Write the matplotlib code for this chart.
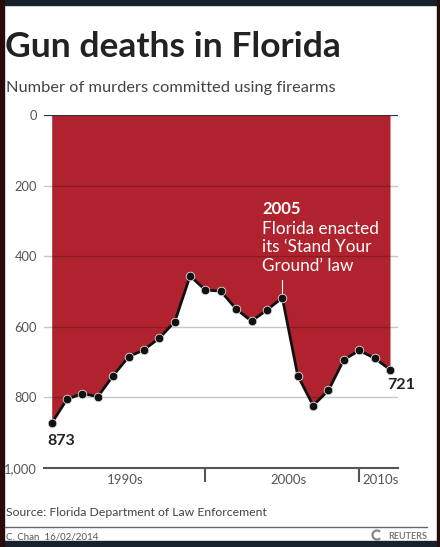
import matplotlib.pyplot as plt
from matplotlib.patches import Rectangle, Arc
from matplotlib.lines import Line2D

years = [1990, 1991, 1992, 1993, 1994, 1995, 1996, 1997, 1998, 1999, 2000, 2001,
         2002, 2003, 2004, 2005, 2006, 2007, 2008, 2009, 2010, 2011, 2012]
murders = [873, 805, 789, 798, 738, 685, 665, 632, 586, 456, 496, 499,
           550, 584, 552, 518, 738, 823, 780, 693, 667, 689, 721]
yticks = [0, 200, 400, 600, 800, 1000]
ytick_labels = ["0", "200", "400", "600", "800", "1,000"]
decades = ["1990s", "2000s", "2010s"]

W, H = 440, 547
RED = "#b0232e"
plt.rcParams['font.family'] = ['Lato', 'DejaVu Sans']

fig = plt.figure(figsize=(W / 100, H / 100), dpi=100)
fig.patch.set_facecolor("white")

def fx(px):
    return px / W

def fy(py):
    return 1 - py / H

# dark frame around the card
fig.add_artist(Rectangle((0, fy(5)), 1, 5 / H, transform=fig.transFigure, color="#17212b", zorder=0))
fig.add_artist(Rectangle((0, 0), 1, 6 / H, transform=fig.transFigure, color="#17212b", zorder=0))
fig.add_artist(Rectangle((0, 0), 4 / W, 1, transform=fig.transFigure, color="#2a0b0c", zorder=0))
fig.add_artist(Rectangle((fx(437), 0), 3 / W, 1, transform=fig.transFigure, color="#2a0b0c", zorder=0))

ax = fig.add_axes([fx(44), fy(468), fx(398) - fx(44), fy(115) - fy(468)])
ax.set_xlim(1989.5, 2012.52)
ax.set_ylim(1000, 0)

ax.fill_between(years, 0, murders, color=RED, lw=0, zorder=1)
for v in yticks[1:-1]:
    ax.axhline(v, color=(0, 0, 0, 0.22), lw=1, zorder=2)
ax.axhline(0, color="#333333", lw=1.6, zorder=3)
ax.plot(years, murders, color="#111111", lw=2, zorder=4)
ax.plot(years, murders, "o", color="#111111", ms=6.2, mec="#dddddd", mew=0.6, zorder=5)

for s in ["top", "right", "left"]:
    ax.spines[s].set_visible(False)
ax.spines["bottom"].set_color("#555555")
ax.spines["bottom"].set_linewidth(1.5)
ax.set_facecolor("none")

ax.set_yticks(yticks)
ax.set_yticklabels(ytick_labels, color="#555555", fontsize=9.3)
ax.tick_params(axis="y", length=0, pad=5)
ax.set_xticks([2000, 2010])
ax.set_xticklabels([])
ax.tick_params(axis="x", length=10, width=1.5, color="#555555", direction="out")

trans = ax.get_xaxis_transform()
ax.text(1994.8, -0.017, decades[0], transform=trans, ha="center", va="top", fontsize=9.5, color="#555555")
ax.text(2005.4, -0.017, decades[1], transform=trans, ha="center", va="top", fontsize=9.5, color="#555555")
ax.text(2010.2, -0.017, decades[2], transform=trans, ha="left", va="top", fontsize=9.5, color="#555555")

ax.text(years[0] + 0.6, murders[0] + 30, str(murders[0]), ha="center", va="top",
        fontsize=11.5, fontweight="bold", color="#222222")
ax.text(years[-1] + 0.7, murders[-1] + 24, str(murders[-1]), ha="center", va="top",
        fontsize=11.5, fontweight="bold", color="#222222")

# annotation for 2005
ax.plot([2005, 2005], [467, murders[15] - 8], color="white", lw=0.8, zorder=4)
ax.text(2003.68, 266, "2005", ha="left", va="center", fontsize=12, fontweight="bold", color="white")
ax.text(2003.68, 323, "Florida enacted", ha="left", va="center", fontsize=12.3, color="white")
ax.text(2003.68, 374, "its \u2018Stand Your", ha="left", va="center", fontsize=12.3, color="white")
ax.text(2003.68, 428, "Ground\u2019 law", ha="left", va="center", fontsize=12.3, color="white")

fig.text(fx(5), fy(57), "Gun deaths in Florida", fontsize=25.5, fontweight="bold",
         color="#222222", va="baseline", ha="left")
fig.text(fx(6), fy(92), "Number of murders committed using firearms", fontsize=11.8,
         color="#444444", va="baseline", ha="left")
fig.text(fx(6), fy(516), "Source: Florida Department of Law Enforcement", fontsize=8.8,
         color="#444444", va="baseline", ha="left")
fig.add_artist(Line2D([fx(5), fx(427)], [fy(527), fy(527)], transform=fig.transFigure,
                      color="#666666", lw=1))
fig.text(fx(6), fy(539), "C. Chan  16/02/2014", fontsize=7, color="#555555", va="baseline", ha="left")
fig.text(fx(427), fy(539), "REUTERS", fontsize=6.5, fontweight="bold", color="#777777",
         va="baseline", ha="right")
fig.add_artist(Arc((fx(377), fy(535)), 9 / W, 9 / H, theta1=40, theta2=320,
                   transform=fig.transFigure, color="#888888", lw=1.6))

fig.savefig("out.png", dpi=100)
